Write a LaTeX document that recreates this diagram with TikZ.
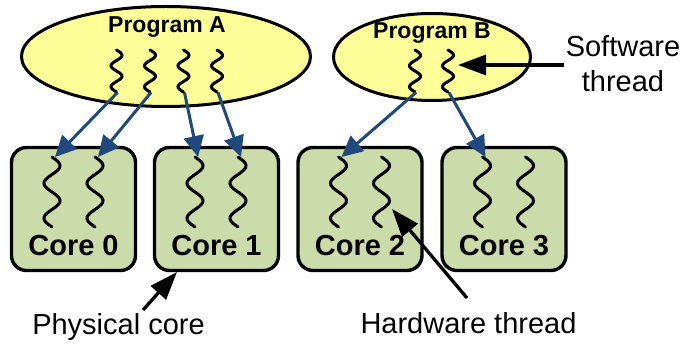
\documentclass[tikz,border=0pt]{standalone}
\usepackage{fontspec}
\setmainfont{Liberation Sans}
\usetikzlibrary{arrows.meta,shapes.geometric}
\definecolor{progfill}{HTML}{FFFF99}
\definecolor{corefill}{HTML}{CCDBAA}
\definecolor{linkblue}{HTML}{1F497D}

\tikzset{
  prog/.style={ellipse, draw=black, line width=3pt, fill=progfill, inner sep=0pt},
  corebox/.style={rectangle, draw=black, line width=3.4pt, fill=corefill,
    rounded corners=15pt, minimum width=124pt, minimum height=123pt, inner sep=0pt},
  progtitle/.style={font=\fontsize{23}{26}\selectfont\bfseries, anchor=base, inner sep=0pt},
  coretitle/.style={font=\fontsize{29}{32}\selectfont\bfseries, anchor=base, inner sep=0pt},
  note/.style={font=\fontsize{29}{35}\selectfont, anchor=base, inner sep=0pt},
  thr/.style={line width=3pt, line cap=round},
  pics/hwthread/.style={code={
    \draw[thr] plot[domain=0:720, samples=73, smooth] ({8*sin(\x)}, {\x/720*70});}},
  pics/swthread/.style={code={
    \draw[thr] plot[domain=0:720, samples=73, smooth] ({5.5*sin(\x)}, {\x/720*42});}},
  map/.style={draw=linkblue, line width=3pt, -{Triangle[length=21pt, width=20pt]}},
  callout/.style={draw=black, line width=3.3pt, -{Triangle[length=28pt, width=20pt]}},
}

\begin{document}
\begin{tikzpicture}[x=1pt, y=-1pt]
  \useasboundingbox (0,0) rectangle (681,344);

  % programs
  \node[prog, minimum width=289pt, minimum height=100pt] (progA) at (166,56.5) {};
  \node[prog, minimum width=197pt, minimum height=87pt] (progB) at (432,57) {};
  \node[progtitle] (progAt) at (167,33) {Program A};
  \node[progtitle] (progBt) at (432,39) {Program B};

  % software threads
  \foreach \n/\cx in {a1/116.5, a2/150, a3/183.5, a4/217, b1/415, b2/448} {
    \pic at (\cx,50) {swthread};
    \coordinate (sw\n) at (\cx+1,92.5);
  }

  % cores
  \foreach \k/\cx in {0/73.5, 1/216.5, 2/360, 3/504} {
    \node[corebox] (core\k) at (\cx,209) {};
    \node[coretitle] (core\k t) at (\cx,256) {Core \k};
    \pic at (\cx-21.5,157) {hwthread};
    \pic at (\cx+21.5,157) {hwthread};
    \coordinate (hw\k l) at (\cx-18.5,157);
    \coordinate (hw\k r) at (\cx+24.5,157);
  }

  % scheduling of software threads onto hardware threads
  \draw[map] (swa1) -- (hw0l);
  \draw[map] (swa2) -- (hw0r);
  \draw[map] (swa3) -- (hw1l);
  \draw[map] (swa4) -- (hw1r);
  \draw[map] (swb1) -- (hw2l);
  \draw[map] (swb2) -- (hw3l);

  % annotations
  \node[note] (swlabel) at (623,57) {Software};
  \node[note] (swlabel2) at (623,92) {thread};
  \coordinate (swfrom) at (564,65);
  \coordinate (swto) at (458,65);
  \draw[callout] (swfrom) -- (swto);

  \node[note] (pclabel) at (118.5,335) {Physical core};
  \coordinate (pcfrom) at (143,310);
  \coordinate (pcto) at (177,272);
  \draw[callout] (pcfrom) -- (pcto);

  \node[note] (htlabel) at (468.5,334) {Hardware thread};
  \coordinate (htfrom) at (467,298);
  \coordinate (htto) at (392,209);
  \draw[callout] (htfrom) -- (htto);
\end{tikzpicture}
\end{document}
